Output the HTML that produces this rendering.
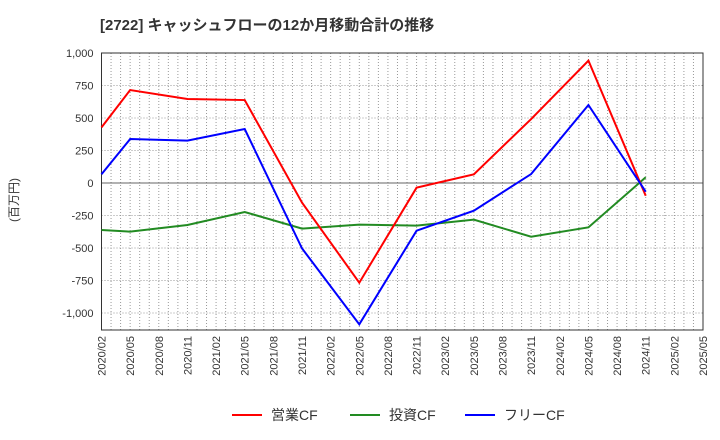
<!DOCTYPE html>
<html><head><meta charset="utf-8"><style>
body{margin:0;background:#fff;font-family:"Liberation Sans","Noto Sans CJK JP",sans-serif;}
</style></head><body>
<svg id="c" width="720" height="440" style="display:block">
<text x="100" y="30" font-size="15" font-weight="bold" fill="#333">[2722]  キャッシュフローの12か月移動合計の推移</text>
<text transform="translate(18,200) rotate(-90)" text-anchor="middle" font-size="12" fill="#333">(百万円)</text>
<g id="grid"></g><g id="axes"></g><g id="series"></g>
<g font-size="14" fill="#333">
<line x1="232" y1="415" x2="262" y2="415" stroke="#f00" stroke-width="2"/><text x="271" y="420">営業CF</text>
<line x1="350" y1="415" x2="380" y2="415" stroke="#228b22" stroke-width="2"/><text x="389" y="420">投資CF</text>
<line x1="465" y1="415" x2="495" y2="415" stroke="#00f" stroke-width="2"/><text x="504" y="420">フリーCF</text>
</g>
</svg>
<script>
const xLabels=["2020/02","2020/05","2020/08","2020/11","2021/02","2021/05","2021/08","2021/11","2022/02","2022/05","2022/08","2022/11","2023/02","2023/05","2023/08","2023/11","2024/02","2024/05","2024/08","2024/11","2025/02","2025/05"];
const pointIdx=[0,1,3,5,7,9,11,13,15,17,19];
const operatingCF=[428,715,646,638,-151,-767,-36,67,492,941,-98];
const investingCF=[-362,-374,-323,-223,-351,-320,-328,-282,-413,-341,44];
const freeCF=[67,338,326,415,-503,-1087,-367,-213,69,600,-67];
const yTicks=[1000,750,500,250,0,-250,-500,-750,-1000];
const L=101.5,R=703,T=53,B=330,Q=(R-L)/21;
const x=q=>L+q*Q;
const y=v=>183-v*0.13;
const NS="http://www.w3.org/2000/svg";
function mk(tag,attrs,parent){const e=document.createElementNS(NS,tag);for(const k in attrs)e.setAttribute(k,attrs[k]);document.getElementById(parent).appendChild(e);return e;}
for(let m=1;m<63;m++){const e=mk("line",{x1:x(m/3),x2:x(m/3),y1:T,y2:B,stroke:"#999","stroke-width":1,"stroke-dasharray":"1,2"},"grid");

}
yTicks.forEach(v=>{const e=mk("line",{x1:L,x2:R,y1:y(v),y2:y(v),stroke:v===0?"#666":"#999","stroke-width":1,"stroke-dasharray":v===0?"":"1,2"},"grid");


const t=mk("text",{x:L-8,y:y(v)+4,"text-anchor":"end","font-size":11,fill:"#333"},"axes");t.textContent=v.toLocaleString("en-US");

});
xLabels.forEach((s,i)=>{const t=mk("text",{transform:`translate(${x(i)+4},336) rotate(-90)`,"text-anchor":"end","font-size":11,fill:"#333"},"axes");t.textContent=s;

});
const f=mk("rect",{x:L,y:T,width:R-L,height:B-T,fill:"none",stroke:"#333","stroke-width":1},"axes");


[[investingCF,"#228b22","investing-cf-line"],[operatingCF,"#f00","operating-cf-line"],[freeCF,"#00f","free-cf-line"]].forEach(([d,c,n])=>{
const p=mk("polyline",{points:d.map((v,i)=>x(pointIdx[i])+","+y(v)).join(" "),fill:"none",stroke:c,"stroke-width":2},"series");

});
</script>
</body></html>
